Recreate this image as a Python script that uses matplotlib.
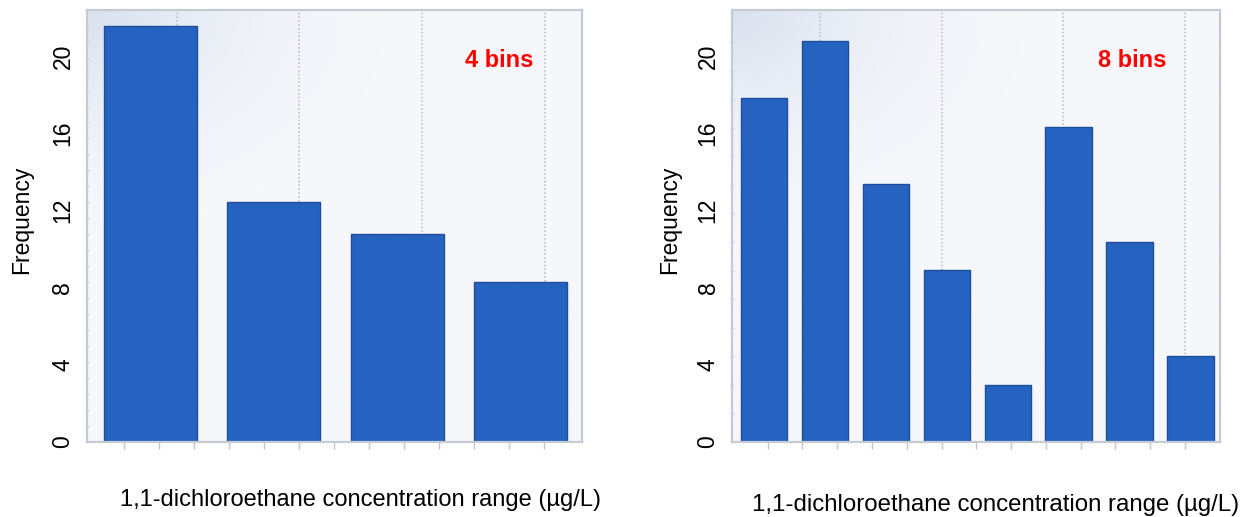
import numpy as np
import matplotlib
matplotlib.use('Agg')
import matplotlib.pyplot as plt
from matplotlib.ticker import FixedLocator

plt.rcParams['font.family'] = ['Liberation Sans', 'DejaVu Sans']

# ---- data ----
left_freq = [21.55, 12.45, 10.78, 8.31]
right_freq = [17.84, 20.79, 13.37, 8.91, 2.97, 16.34, 10.38, 4.46]
y_ticks = [0, 4, 8, 12, 16, 20]
y_tick_labels = ['0', '4', '8', '12', '16', '20']
left_note = '4 bins'
right_note = '8 bins'
x_label = '1,1-dichloroethane concentration range (µg/L)'
y_label = 'Frequency'

W, H = 1246, 517
fig = plt.figure(figsize=(W / 100, H / 100), dpi=100)
fig.patch.set_facecolor('white')


def px_axes(x0, y0, x1, y1):
    return fig.add_axes([x0 / W, 1 - y1 / H, (x1 - x0) / W, (y1 - y0) / H])


def background(ax):
    nx, ny = 300, 200
    xs = np.linspace(0, 1, nx)
    ys = np.linspace(1, 0, ny)
    X, Y = np.meshgrid(xs, ys)
    d = np.sqrt((X / 0.6) ** 2 + ((1 - Y) / 0.5) ** 2)
    w = np.clip(1 - d, 0, 1) ** 1.6
    base = np.array([246, 247, 251]) / 255
    corner = np.array([218, 225, 238]) / 255
    img = base + w[..., None] * (corner - base)
    ax.imshow(img, extent=(0, 1, 0, 1), transform=ax.transAxes,
              aspect='auto', zorder=0, interpolation='bilinear')


def panel(ax, values, xlim, width, grid0, gridstep, ngrid,
          xt0, xtstep, nxt, minor_step, note, note_px):
    x = np.arange(len(values))
    background(ax)
    for k in range(ngrid):
        ax.axvline(grid0 + k * gridstep, color='#b5b9c2', ls=(0, (1, 1.5)),
                   lw=1.1, zorder=1)
    ax.bar(x, values, width=width, color='#2663c0', edgecolor='#1d4e9a',
           lw=1.0, zorder=2)
    ax.set_xlim(*xlim)
    ax.set_ylim(0, 22.38)
    ax.set_yticks(y_ticks)
    ax.set_yticklabels(y_tick_labels, rotation=90, va='center', fontsize=16.5)
    ax.yaxis.set_minor_locator(FixedLocator(np.arange(0, 22.4, minor_step)))
    ax.tick_params(axis='y', which='major', length=0, pad=9)
    ax.tick_params(axis='y', which='minor', length=3, color='#d0d3da',
                   direction='inout', width=1)
    ax.set_xticks(xt0 + xtstep * np.arange(nxt))
    ax.set_xticklabels([])
    ax.tick_params(axis='x', which='major', length=5, color='#c2c5cc',
                   direction='out', width=1)
    for s in ax.spines.values():
        s.set_color('#c6cad2')
        s.set_linewidth(1.6)
    fig.text(note_px[0] / W, 1 - note_px[1] / H, note, color='red',
             fontsize=17, fontweight='bold', ha='left', va='baseline')


axL = px_axes(87, 10, 582, 442)
panel(axL, left_freq, (-0.513, 3.496), 0.753, 0.214, 0.994, 4,
      -0.216, 0.2838, 13, 0.828, left_note, (465, 67))

axR = px_axes(732, 10, 1220, 442)
panel(axR, right_freq, (-0.529, 7.485), 0.764, 0.916, 1.997, 4,
      0.057, 0.571, 13, 1.48, right_note, (1098, 67))

fig.text(22 / W, 1 - 220 / H, y_label, rotation=90, ha='center', va='center',
         fontsize=16.5)
fig.text(670 / W, 1 - 220 / H, y_label, rotation=90, ha='center', va='center',
         fontsize=16.5)
fig.text(120 / W, 1 - 500 / H, x_label, ha='left', va='center', fontsize=17)
fig.text(752 / W, 1 - 505 / H, x_label, ha='left', va='center', fontsize=17.3)

fig.savefig('out.png', dpi=100)
